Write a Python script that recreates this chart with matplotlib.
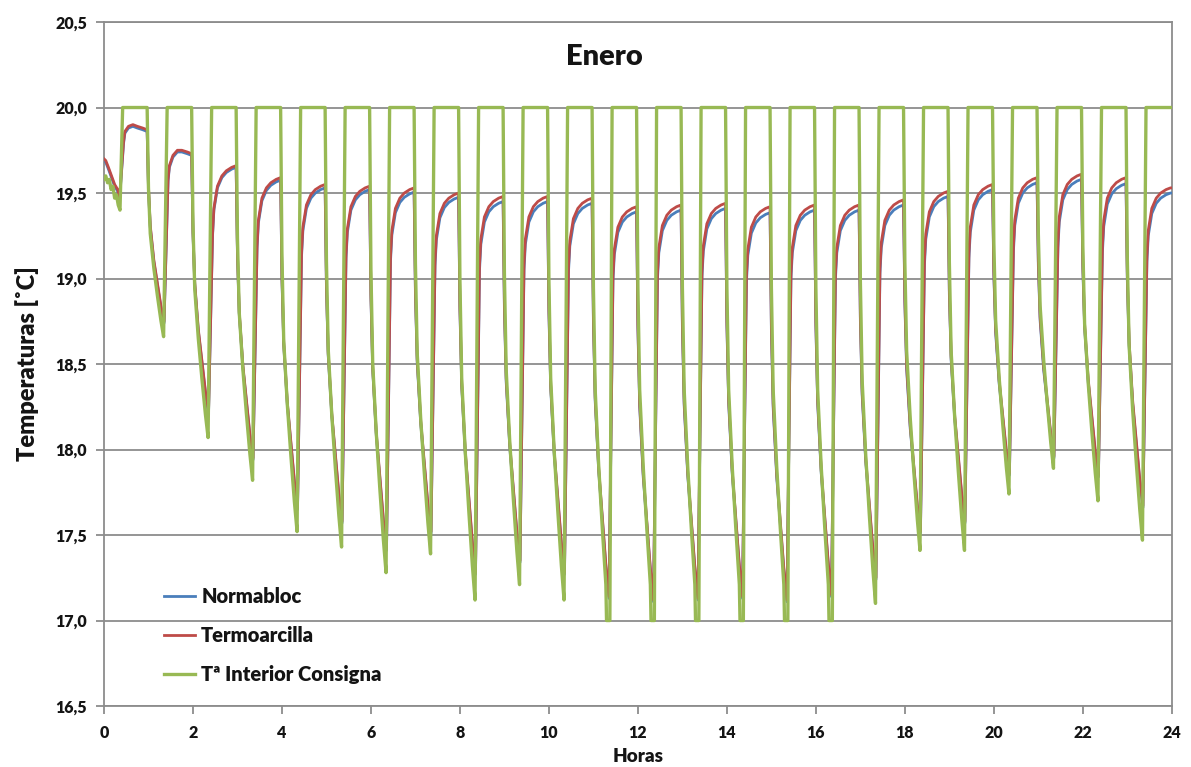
import numpy as np
import matplotlib
matplotlib.use("Agg")
import matplotlib.pyplot as plt
from matplotlib.ticker import FuncFormatter, MultipleLocator

plt.rcParams['font.family'] = ['Lato', 'DejaVu Sans']

# ---------------- data ----------------
title = "Enero"
xlabel = "Horas"
ylabel = "Temperaturas [˚C]"
series_names = ["Normabloc", "Termoarcilla", "Tª Interior Consigna"]
colors = ["#4a7ebb", "#be4b48", "#98b954"]

setpoint = 20.0
n_cycles = 24

# initial segment (t = 0 .. 0.36)
init_t_red = [0.0, 0.04, 0.10, 0.17, 0.24, 0.31, 0.35]
init_red = [19.70, 19.69, 19.65, 19.60, 19.55, 19.52, 19.47]
init_blue = [19.69, 19.68, 19.64, 19.59, 19.54, 19.51, 19.46]
init_t_green = [0.0, 0.04, 0.08, 0.12, 0.16, 0.20, 0.24, 0.28, 0.32, 0.36]
init_green = [19.58, 19.60, 19.56, 19.58, 19.52, 19.54, 19.47, 19.49, 19.43, 19.40]

# end-of-heating temperature of each cycle (hour k + 0.97)
red_peak = [19.87, 19.73, 19.66, 19.59, 19.55, 19.54, 19.53, 19.50, 19.48, 19.48,
            19.47, 19.42, 19.43, 19.44, 19.42, 19.43, 19.43, 19.46, 19.51, 19.55,
            19.59, 19.61, 19.59, 19.53]
blue_peak = [19.86, 19.72, 19.65, 19.575, 19.53, 19.52, 19.505, 19.475, 19.45, 19.45,
             19.44, 19.39, 19.40, 19.41, 19.385, 19.40, 19.40, 19.43, 19.48, 19.52,
             19.56, 19.58, 19.555, 19.50]

# minimum of each off period (hour k + 0.33), k = 1..23
green_min = [18.66, 18.07, 17.82, 17.52, 17.43, 17.28, 17.39, 17.12, 17.21, 17.12,
             17.00, 17.00, 17.00, 17.00, 17.00, 17.00, 17.10, 17.41, 17.41, 17.74,
             17.89, 17.70, 17.47]
red_min = [18.75, 18.22, 17.95, 17.66, 17.58, 17.42, 17.52, 17.28, 17.35, 17.28,
           17.14, 17.12, 17.13, 17.14, 17.12, 17.15, 17.25, 17.52, 17.58, 17.86,
           17.96, 17.85, 17.67]
blue_min = [18.74, 18.21, 17.94, 17.65, 17.57, 17.41, 17.51, 17.27, 17.34, 17.27,
            17.13, 17.11, 17.12, 17.13, 17.11, 17.14, 17.24, 17.51, 17.57, 17.85,
            17.95, 17.84, 17.66]

# shape of a heating period (time within the hour, offset from end value)
heat_t = [0.44, 0.47, 0.55, 0.65, 0.75, 0.87, 0.97]
heat_off = [-0.40, -0.25, -0.12, -0.06, -0.03, -0.01, 0.0]
# first two heating periods read directly
red_heat_first = [[19.80, 19.86, 19.89, 19.90, 19.89, 19.88, 19.87],
                  [19.58, 19.66, 19.72, 19.75, 19.75, 19.74, 19.73]]
blue_heat_first = [[19.79, 19.85, 19.88, 19.89, 19.88, 19.87, 19.86],
                   [19.57, 19.65, 19.71, 19.74, 19.74, 19.73, 19.72]]

# shape of a cooling period (time after hour k, fraction of the drop)
fall_t = [1.00, 1.04, 1.12, 1.20, 1.28]
red_fall_frac = [0.30, 0.50, 0.68, 0.80, 0.92]
green_fall_frac = [0.35, 0.55, 0.70, 0.82, 0.93]
min_t_red = 1.35
min_t_green = 1.34
green_on_t = 0.42
green_off_t = 0.97
clamp_t = [1.295, 1.37]
clamp_level = 17.0


def build_wall(init_t, init_v, peak, mins, first):
    t = list(init_t)
    v = list(init_v)
    for k in range(n_cycles):
        vals = first[k] if k < len(first) else [peak[k] + o for o in heat_off]
        t += [k + h for h in heat_t]
        v += vals
        if k == n_cycles - 1:
            t.append(24.0)
            v.append(vals[-1])
            break
        end = vals[-1]
        drop = end - mins[k]
        t += [k + f for f in fall_t]
        v += [end - fr * drop for fr in red_fall_frac]
        t.append(k + min_t_red)
        v.append(mins[k])
    return np.array(t), np.array(v)


def build_green():
    t = list(init_t_green)
    v = list(init_green)
    for k in range(n_cycles):
        t += [k + green_on_t, k + green_off_t]
        v += [setpoint, setpoint]
        if k == n_cycles - 1:
            t.append(24.0)
            v.append(setpoint)
            break
        m = green_min[k]
        drop = setpoint - m
        t += [k + f for f in fall_t]
        v += [setpoint - fr * drop for fr in green_fall_frac]
        if m <= clamp_level:
            t += [k + clamp_t[0], k + clamp_t[1]]
            v += [m, m]
        else:
            t.append(k + min_t_green)
            v.append(m)
    return np.array(t), np.array(v)


tb, vb = build_wall(init_t_red, init_blue, blue_peak, blue_min, blue_heat_first)
tr, vr = build_wall(init_t_red, init_red, red_peak, red_min, red_heat_first)
tg, vg = build_green()

# ---------------- figure ----------------
fig = plt.figure(figsize=(11.91, 7.67), dpi=100)
ax = fig.add_axes([0.0873, 0.0795, 0.8966, 0.8918])

grid_c = "#8c8c8c"
txt_c = "#141414"
ax.plot(tb, vb, color=colors[0], lw=2.0, label=series_names[0], zorder=3)
ax.plot(tr, vr, color=colors[1], lw=2.0, label=series_names[1], zorder=4)
ax.plot(tg, vg, color=colors[2], lw=2.4, label=series_names[2], zorder=5)

ax.set_xlim(0, 24)
ax.set_ylim(16.5, 20.5)
ax.xaxis.set_major_locator(MultipleLocator(2))
ax.yaxis.set_major_locator(MultipleLocator(0.5))
ax.yaxis.set_major_formatter(FuncFormatter(lambda v, p: f"{v:.1f}".replace(".", ",")))
ax.xaxis.set_major_formatter(FuncFormatter(lambda v, p: f"{v:.0f}"))

ax.grid(axis="y", color=grid_c, lw=1.3)
ax.set_axisbelow(True)
for s in ax.spines.values():
    s.set_color(grid_c)
    s.set_linewidth(1.3)

ax.tick_params(axis="both", direction="out", length=6, width=1.3, color=grid_c,
               labelsize=11.5, labelcolor=txt_c)
for lab in ax.get_xticklabels() + ax.get_yticklabels():
    lab.set_fontweight("heavy")
ax.tick_params(axis="y", pad=6)
ax.tick_params(axis="x", pad=8)

ax.set_xlabel(xlabel, fontsize=13.5, fontweight="heavy", color=txt_c, labelpad=5)
ax.set_ylabel(ylabel, fontsize=17, fontweight="heavy", color=txt_c, labelpad=12)
ax.text(0.469, 0.949, title, transform=ax.transAxes, ha="center", va="center",
        fontsize=21, fontweight="heavy", color=txt_c)

leg = ax.legend(loc="lower left", bbox_to_anchor=(0.043, 0.012), frameon=False,
                handlelength=1.55, handletextpad=0.3, borderpad=0.2,
                labelspacing=0.98, prop={"weight": "heavy", "size": 14.5})
for txt in leg.get_texts():
    txt.set_color(txt_c)

fig.savefig("out.png", dpi=100)
